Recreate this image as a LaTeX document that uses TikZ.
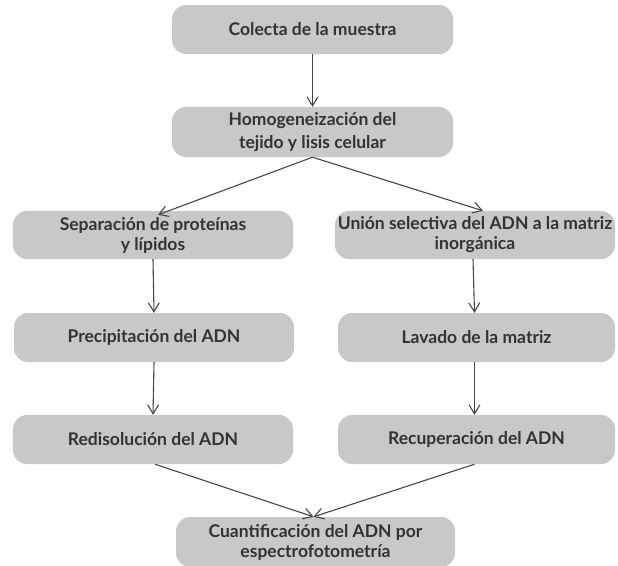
\documentclass[tikz,border=0pt]{standalone}
\usepackage{fontspec}
\setmainfont{Lato}[UprightFont=* Bold]
\usetikzlibrary{arrows.meta}
\definecolor{boxgray}{RGB}{200,200,200}
\definecolor{txtgray}{RGB}{50,50,55}
\definecolor{lingray}{RGB}{70,70,70}
\tikzset{
  stepbox/.style={fill=boxgray, draw=none, rounded corners=14pt, inner sep=0pt,
    text=txtgray, align=center, font=\fontsize{17.5}{20}\selectfont},
  flow/.style={draw=lingray, line width=1.1pt, -{Straight Barb[length=9pt,width=11pt]}}
}
\begin{document}
\begin{tikzpicture}[x=1pt,y=-1pt]
\useasboundingbox (0,0) rectangle (618,565);
\node[stepbox, minimum width=281pt, minimum height=49pt] (b1) at (312.5,29.5) {Colecta de la muestra};
\node[stepbox, minimum width=281pt, minimum height=50pt, font=\fontsize{17.5}{23.5}\selectfont] (b2) at (312.5,132) {Homogeneización del\\tejido y lisis celular};
\node[stepbox, minimum width=280pt, minimum height=48pt] (b3) at (153,235) {Separación de proteínas\\y lípidos};
\node[stepbox, minimum width=280pt, minimum height=48pt] (b4) at (475,235) {Unión selectiva del ADN a la matriz\\inorgánica};
\node[stepbox, minimum width=280pt, minimum height=49pt] (b5) at (154,337.5) {Precipitación del ADN};
\node[stepbox, minimum width=277pt, minimum height=49pt] (b6) at (476.5,337.5) {Lavado de la matriz};
\node[stepbox, minimum width=280pt, minimum height=49pt] (b7) at (153,439.5) {Redisolución del ADN};
\node[stepbox, minimum width=277pt, minimum height=49pt] (b8) at (476.5,439.5) {Recuperación del ADN};
\node[stepbox, minimum width=279pt, minimum height=50pt] (b9) at (315.5,542) {Cuantificación del ADN por\\espectrofotometría};
\draw[flow] (b1.south) -- (b2.north);
\draw[flow] (b2.south) -- ([xshift=5pt,yshift=-4pt]b3.north);
\draw[flow] (b2.south) -- ([xshift=8pt]b4.north);
\draw[flow] (b3.south) -- (b5.north);
\draw[flow] (b5.south) -- (b7.north);
\draw[flow] ([xshift=-2pt]b4.south) -- ([xshift=-2pt]b6.north);
\draw[flow] ([xshift=-2pt]b6.south) -- ([xshift=-2pt]b8.north);
\draw[flow] ([xshift=2pt]b7.south) -- ([xshift=-2pt]b9.north);
\draw[flow] ([xshift=-2pt]b8.south) -- ([xshift=-2pt]b9.north);
\end{tikzpicture}
\end{document}
